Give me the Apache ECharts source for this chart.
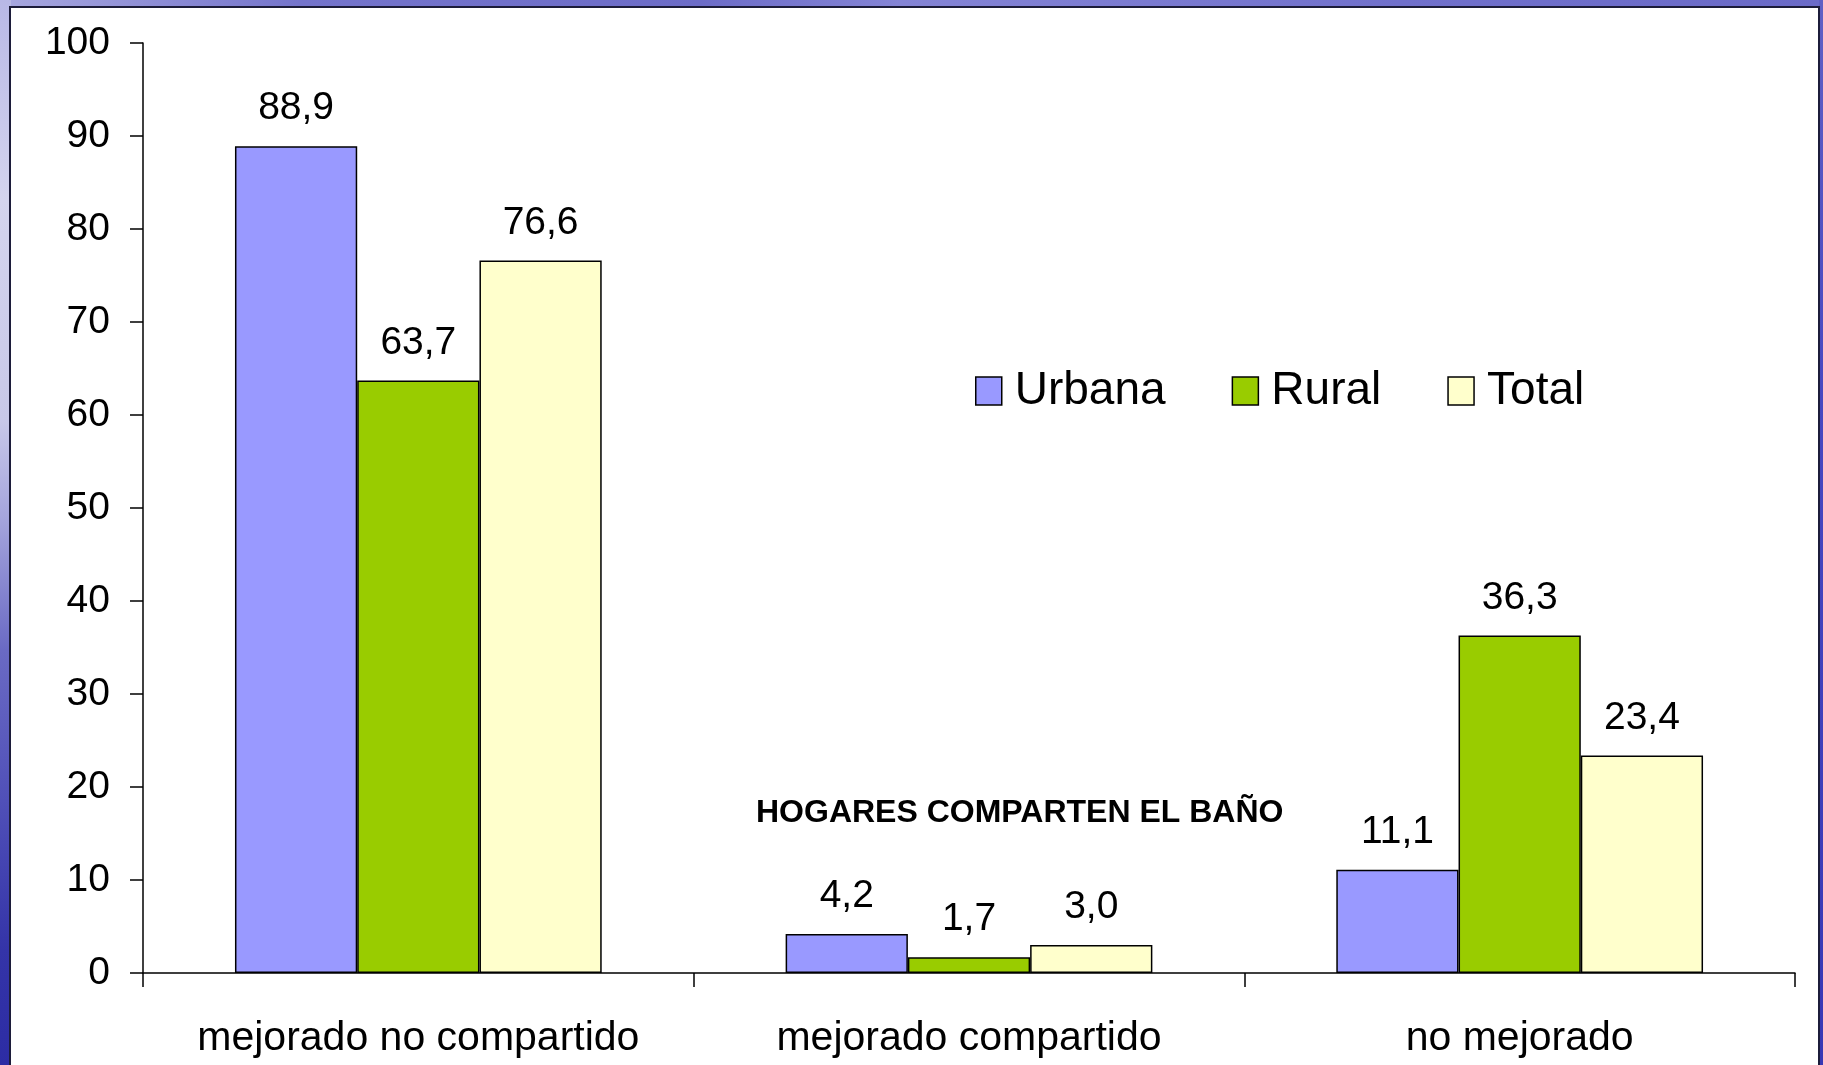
<!DOCTYPE html>
<html><head><meta charset="utf-8">
<script src="https://cdn.jsdelivr.net/npm/echarts@6/dist/echarts.min.js"></script>
<style>
html,body{margin:0;padding:0;width:1823px;height:1065px;overflow:hidden;background:#7272cc;}
#top{position:absolute;left:0;top:0;width:1823px;height:8px;
background:linear-gradient(90deg,#a8a8e0 0px,#7474cc 300px,#6c6cc8 700px,#8484d6 900px,#7070cc 1400px,#6a6ac8 1823px);}
#lft{position:absolute;left:0;top:0;width:11px;height:1065px;
background:linear-gradient(180deg,#b8b8e6 0px,#d4d4ee 200px,#c8c8e8 420px,#a4a4dc 520px,#6a6ac4 650px,#5050b8 800px,#3434a8 950px,#2c2ca4 1065px);}
#rgt{position:absolute;left:1819px;top:0;width:4px;height:1065px;
background:linear-gradient(180deg,#6060c4 0px,#4848c0 400px,#3838b4 1065px);}
#c{position:absolute;left:0;top:0;width:1823px;height:1065px;}
</style></head>
<body><div id="top"></div><div id="lft"></div><div id="rgt"></div><div id="c"></div>
<script>
const categories = ['mejorado no compartido', 'mejorado compartido', 'no mejorado'];
const urbana = [88.9, 4.2, 11.1];
const rural = [63.7, 1.7, 36.3];
const total = [76.6, 3.0, 23.4];
const seriesNames = ['Urbana', 'Rural', 'Total'];
const yTicks = [0, 10, 20, 30, 40, 50, 60, 70, 80, 90, 100];
const annotation = 'HOGARES COMPARTEN EL BAÑO';

const FONT = '"Liberation Sans", Arial, sans-serif';
const chart = echarts.init(document.getElementById('c'), null, {renderer: 'canvas'});
function fmt(v){ return v.toFixed(1).replace('.', ','); }
function mk(name, data, color){
  return {
    name, type: 'bar', data, barGap: '0%', barCategoryGap: '33.4%',
    itemStyle: {color, borderColor: '#000', borderWidth: 1.5},
    label: {show: true, position: 'top', distance: 18, color: '#000',
      fontFamily: FONT, fontSize: 39, formatter: p => fmt(p.value)}
  };
}
chart.setOption({
  backgroundColor: 'transparent',
  animation: false,
  graphic: [
    {type: 'rect', shape: {x: 10, y: 7, width: 1809, height: 1070},
     style: {fill: '#fff', stroke: '#1c1c3a', lineWidth: 2}, z: -10, silent: true},
    {type: 'text', left: 756, top: 797, z: 10,
     style: {text: annotation, fontFamily: FONT, fontWeight: 'bold', fontSize: 32, fill: '#000'}}
  ],
  legend: {
    data: seriesNames, left: 970, top: 363, icon: 'rect', itemWidth: 26, itemHeight: 28,
    itemGap: 66,
    itemStyle: {borderColor: '#000', borderWidth: 1.5},
    textStyle: {fontFamily: FONT, fontSize: 46, color: '#000', padding: [0, 0, 0, 8]}
  },
  grid: {left: 143, right: 28, top: 43, bottom: 92, containLabel: false},
  xAxis: {
    type: 'category', data: categories,
    axisLine: {lineStyle: {color: '#000', width: 1.5}},
    axisTick: {show: true, interval: 0, length: 14, lineStyle: {color: '#000', width: 1.5}},
    axisLabel: {interval: 0, fontFamily: FONT, fontSize: 41, color: '#000', margin: 45}
  },
  yAxis: {
    type: 'value', min: 0, max: 100, interval: 10,
    axisLine: {show: true, lineStyle: {color: '#000', width: 1.5}},
    axisTick: {show: true, length: 13, lineStyle: {color: '#000', width: 1.5}},
    splitLine: {show: false},
    axisLabel: {fontFamily: FONT, fontSize: 39, color: '#000', margin: 33,
      formatter: v => yTicks.includes(v) ? String(v) : ''}
  },
  series: [mk(seriesNames[0], urbana, '#9999FF'), mk(seriesNames[1], rural, '#99CC00'), mk(seriesNames[2], total, '#FFFFCC')]
});
</script></body></html>
